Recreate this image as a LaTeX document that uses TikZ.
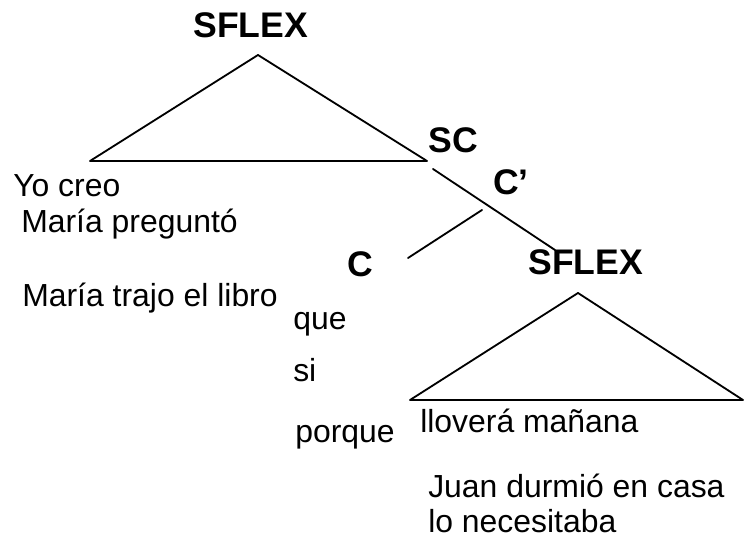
\documentclass[tikz,border=0pt]{standalone}
\usepackage{fontspec}
\setmainfont{Liberation Sans}

\begin{document}
\begin{tikzpicture}[
	line join=round,
	line cap=round,
	cat/.style={anchor=base west, inner sep=0pt, font=\fontsize{25.3pt}{30pt}\selectfont\bfseries},
	txt/.style={anchor=base west, inner sep=0pt, font=\fontsize{22.7pt}{27pt}\selectfont},
	rama/.style={line width=1.3pt}
	]
	
	% Marco
	\useasboundingbox (0,0) rectangle (18.6,13.6);
	
	% Puntos de los triángulos
	\coordinate (A1) at (6.45,12.225);
	\coordinate (B1) at (2.25,9.575);
	\coordinate (C1) at (10.675,9.575);
	\coordinate (A2) at (14.45,6.275);
	\coordinate (B2) at (10.25,3.6);
	\coordinate (C2) at (18.575,3.6);
	
	% Extremos de las ramas
	\coordinate (SCa) at (10.825,9.375);
	\coordinate (SCb) at (13.875,7.35);
	\coordinate (Ca) at (12.05,8.35);
	\coordinate (Cb) at (10.2,7.15);
	
	% Triángulos
	\draw[rama] (A1)--(B1)--(C1)--cycle;
	\draw[rama] (A2)--(B2)--(C2)--cycle;
	
	% Ramas
	\draw[rama] (SCa)--(SCb);
	\draw[rama] (Ca)--(Cb);
	
	% Categorías
	\node[cat] (sflexA) at (4.825,12.65) {SFLEX};
	\node[cat] (sc) at (10.7,9.775) {SC};
	\node[cat] (cbar) at (12.325,8.725) {C’};
	\node[cat] (c) at (8.675,6.675) {C};
	\node[cat] (sflexB) at (13.2,6.725) {SFLEX};
	
	% Oraciones principales
	\node[txt] (yo) at (0.325,8.675) {Yo creo};
	\node[txt] (maria) at (0.525,7.775) {María preguntó};
	\node[txt] (trajo) at (0.55,5.925) {María trajo el libro};
	
	% Complementantes
	\node[txt] (que) at (7.325,5.35) {que};
	\node[txt] (si) at (7.325,4.05) {si};
	\node[txt] (porque) at (7.375,2.55) {porque};
	
	% Oraciones subordinadas
	\node[txt] (llovera) at (10.5,2.775) {lloverá mañana};
	\node[txt] (juan) at (10.7,1.175) {Juan durmió en casa};
	\node[txt] (lo) at (10.7,0.3) {lo necesitaba};
	
\end{tikzpicture}
\end{document}
